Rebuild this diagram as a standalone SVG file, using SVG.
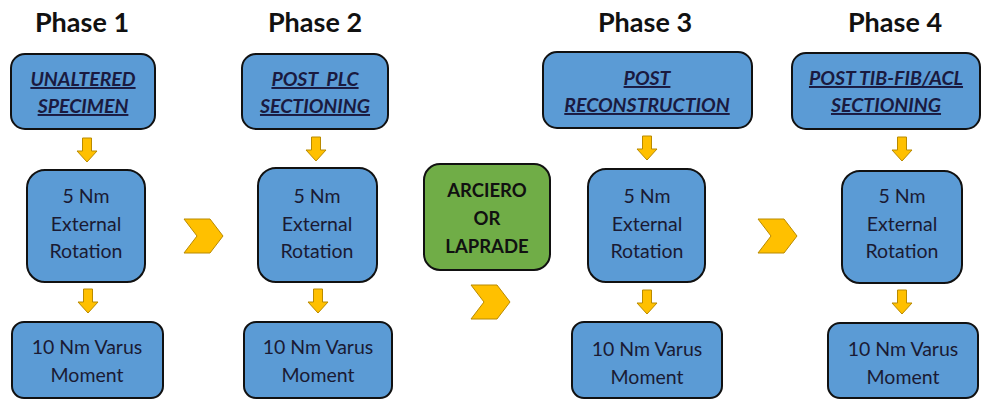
<svg xmlns="http://www.w3.org/2000/svg" width="985" height="400" viewBox="0 0 985 400">
<defs>
<style>
.bx{fill:#5B9BD5;stroke:#111;stroke-width:2}
.gr{fill:#70AD47;stroke:#111;stroke-width:2}
.t{font-family:Lato,"Liberation Sans",sans-serif;font-size:19.5px;fill:#1a1a33;text-anchor:middle}
.h{font-family:Lato,"Liberation Sans",sans-serif;font-size:27px;font-weight:bold;fill:#111;text-anchor:middle}
.u{font-family:Lato,"Liberation Sans",sans-serif;font-size:19.5px;font-weight:bold;font-style:italic;text-decoration:underline;fill:#1a1a40;text-anchor:middle}
.g{font-family:Lato,"Liberation Sans",sans-serif;font-size:18.5px;font-weight:bold;fill:#111;text-anchor:middle}
.ar{fill:#FFC000;stroke:#B98A00;stroke-width:1}
</style>
<path id="da" d="M-4.5,0 h9 v13 h5.5 l-10,11 l-10,-11 h5.5 z"/>
<path id="ch" d="M0,0 h26 l13,17 l-13,17 h-26 l13,-17 z"/>
</defs>
<rect width="985" height="400" fill="#fff"/>
<g id="titles">
<text class="h" x="82" y="32">Phase 1</text>
<text class="h" x="315" y="32">Phase 2</text>
<text class="h" x="645" y="32">Phase 3</text>
<text class="h" x="895" y="32">Phase 4</text>
</g>
<g id="p1-top"><rect class="bx" x="11" y="54" width="144" height="75" rx="14"/><text class="u" x="83" y="86">UNALTERED</text><text class="u" x="83" y="113">SPECIMEN</text></g>
<g id="p1-mid"><rect class="bx" x="27" y="170" width="118" height="112" rx="18"/><text class="t" x="86" y="203">5 Nm</text><text class="t" x="86" y="231">External</text><text class="t" x="86" y="258">Rotation</text></g>
<g id="p1-bot"><rect class="bx" x="12" y="322" width="151" height="76" rx="12"/><text class="t" x="87" y="354">10 Nm Varus</text><text class="t" x="87" y="382">Moment</text></g>
<g id="p2-top"><rect class="bx" x="242" y="54" width="146" height="75" rx="14"/><text class="u" x="315" y="86">POST&#160; PLC</text><text class="u" x="315" y="113">SECTIONING</text></g>
<g id="p2-mid"><rect class="bx" x="258" y="168" width="119" height="114" rx="18"/><text class="t" x="317" y="203">5 Nm</text><text class="t" x="317" y="231">External</text><text class="t" x="317" y="258">Rotation</text></g>
<g id="p2-bot"><rect class="bx" x="244" y="322" width="148" height="76" rx="12"/><text class="t" x="318" y="354">10 Nm Varus</text><text class="t" x="318" y="382">Moment</text></g>
<g id="recon"><rect class="gr" x="424" y="164" width="126" height="106" rx="16"/><text class="g" x="487" y="197">ARCIERO</text><text class="g" x="487" y="225">OR</text><text class="g" x="487" y="253">LAPRADE</text></g>
<g id="p3-top"><rect class="bx" x="543" y="52" width="209" height="76" rx="14"/><text class="u" x="647" y="85">POST</text><text class="u" x="647" y="112">RECONSTRUCTION</text></g>
<g id="p3-mid"><rect class="bx" x="588" y="169" width="117" height="113" rx="18"/><text class="t" x="647" y="203">5 Nm</text><text class="t" x="647" y="231">External</text><text class="t" x="647" y="258">Rotation</text></g>
<g id="p3-bot"><rect class="bx" x="572" y="322" width="150" height="76" rx="12"/><text class="t" x="647" y="356">10 Nm Varus</text><text class="t" x="647" y="384">Moment</text></g>
<g id="p4-top"><rect class="bx" x="792" y="53" width="188" height="76" rx="14"/><text class="u" x="886" y="85">POST TIB-FIB/ACL</text><text class="u" x="886" y="112">SECTIONING</text></g>
<g id="p4-mid"><rect class="bx" x="842" y="171" width="120" height="112" rx="18"/><text class="t" x="902" y="203">5 Nm</text><text class="t" x="902" y="231">External</text><text class="t" x="902" y="258">Rotation</text></g>
<g id="p4-bot"><rect class="bx" x="828" y="323" width="150" height="75" rx="12"/><text class="t" x="903" y="356">10 Nm Varus</text><text class="t" x="903" y="384">Moment</text></g>
<g id="connectors">
<use href="#da" class="ar" x="87" y="138"/>
<use href="#da" class="ar" x="88" y="289"/>
<use href="#da" class="ar" x="316" y="137"/>
<use href="#da" class="ar" x="318" y="289"/>
<use href="#da" class="ar" x="647" y="136"/>
<use href="#da" class="ar" x="647" y="290"/>
<use href="#da" class="ar" x="902" y="137"/>
<use href="#da" class="ar" x="902" y="290"/>
<use href="#ch" class="ar" x="184" y="219"/>
<use href="#ch" class="ar" x="471" y="285"/>
<use href="#ch" class="ar" x="758" y="219"/>
</g>
</svg>
